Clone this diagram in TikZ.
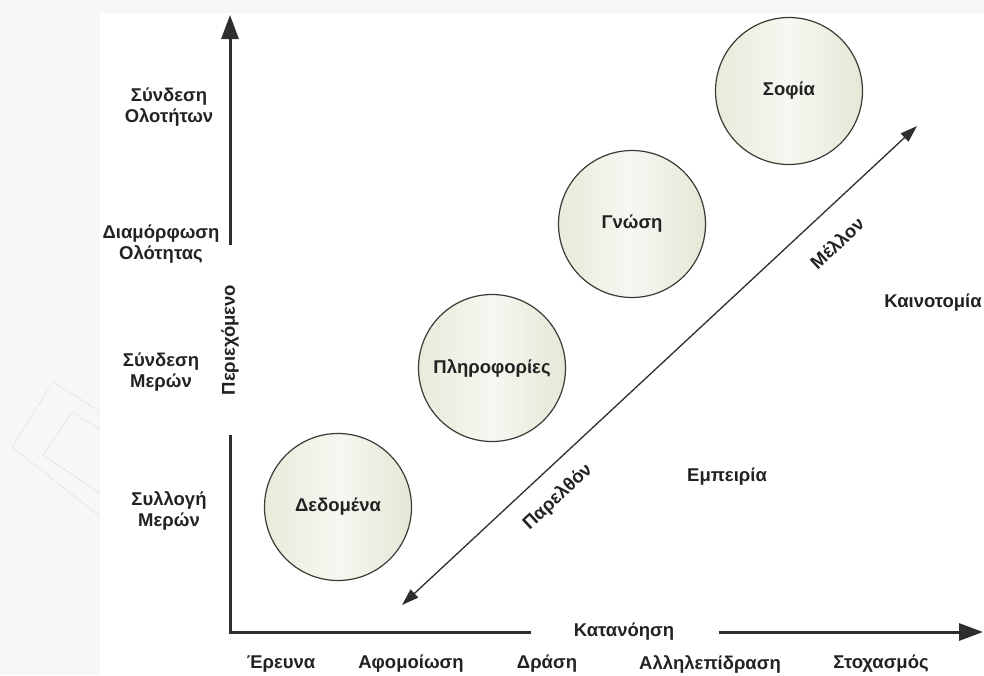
\documentclass[tikz,border=0pt]{standalone}
\usepackage{fontspec}
\setmainfont{Liberation Sans}
\usetikzlibrary{arrows.meta}

\definecolor{txt}{HTML}{222222}
\definecolor{axisc}{HTML}{2E2E2E}
\definecolor{ringc}{HTML}{3A3A35}
\definecolor{pagebg}{HTML}{F7F7F7}
\definecolor{markc}{HTML}{D9D9D9}

% soft olive band, lighter in the middle
\pgfdeclarehorizontalshading{stageshade}{100bp}{%
  rgb(0bp)=(0.910,0.918,0.855); rgb(25bp)=(0.910,0.918,0.855);
  rgb(50bp)=(0.965,0.969,0.945);
  rgb(75bp)=(0.898,0.906,0.839); rgb(100bp)=(0.898,0.906,0.839)}

\begin{document}
\begin{tikzpicture}[x=1pt,y=-1pt,
  lbl/.style={font=\fontsize{18.5}{21.5}\selectfont\bfseries, text=txt, align=center, inner sep=0pt},
  stage/.style={lbl, circle, draw=ringc, line width=1.2pt, minimum size=147pt,
                shading=stageshade},
  axis/.style={draw=axisc, line width=3pt, line join=miter},
  axhead/.style={-{Triangle[length=24pt,width=17pt]}},
  timeline/.style={draw=axisc, line width=1.3pt,
                   {Triangle[length=17pt,width=11pt]}-{Triangle[length=17pt,width=11pt]}},
  faint/.style={draw=markc, line width=0.8pt, densely dotted}
]
\useasboundingbox (0,0) rectangle (984,675);

% page margin and white drawing panel
\fill[pagebg] (0,0) rectangle (984,675);
\begin{scope}
  \clip (0,13) rectangle (100,675);
  \draw[faint] (53,382) -- (12,447) -- (112,526);
  \draw[faint] (53,382) -- (118,423);
  \draw[faint] (72,412) -- (43,455) -- (110,500);
  \draw[faint] (72,412) -- (112,437);
\end{scope}
\fill[white] (100,13) rectangle (984,675);

% axis anchor points
\coordinate (origin)  at (230,632);
\coordinate (yfoot)   at (230,435);
\coordinate (yhead)   at (230,245);
\coordinate (ytip)    at (230,15);
\coordinate (xend)    at (531,632);
\coordinate (xresume) at (719,632);
\coordinate (xtip)    at (983,632);

% axes
\draw[axis] (yfoot) -- (origin) -- (xend);
\draw[axis, axhead] (yhead) -- (ytip);
\draw[axis, axhead] (xresume) -- (xtip);

\node[lbl, rotate=90] (content) at (230,340) {Περιεχόμενο};
\node[lbl] (understanding) at (624,632) {Κατανόηση};

% vertical scale
\node[lbl] (wholes)   at (169,107) {Σύνδεση\\Ολοτήτων};
\node[lbl] (forming)  at (161,244) {Διαμόρφωση\\Ολότητας};
\node[lbl] (parts)    at (161,372) {Σύνδεση\\Μερών};
\node[lbl] (gather)   at (169,511) {Συλλογή\\Μερών};

% horizontal scale
\node[lbl] (research)    at (281,664) {Έρευνα};
\node[lbl] (absorb)      at (411,664) {Αφομοίωση};
\node[lbl] (action)      at (547,664) {Δράση};
\node[lbl] (interaction) at (710,664) {Αλληλεπίδραση};
\node[lbl] (reflection)  at (881,664) {Στοχασμός};

% stages
\node[stage] (data)    at (338,507) {Δεδομένα};
\node[stage] (info)    at (492,368) {Πληροφορίες};
\node[stage] (know)    at (632,224) {Γνώση};
\node[stage] (wisdom)  at (789,91)  {Σοφία};

% time line
\coordinate (past)   at (402,605);
\coordinate (future) at (917,126);
\draw[timeline] (past) -- (future);
\node[lbl, rotate=43] (pastlbl)   at (558,497) {Παρελθόν};
\node[lbl, rotate=43] (futurelbl) at (837,243) {Μέλλον};

\node[lbl] (experience) at (727,477) {Εμπειρία};
\node[lbl] (innovation) at (933,303) {Καινοτομία};
\end{tikzpicture}
\end{document}
